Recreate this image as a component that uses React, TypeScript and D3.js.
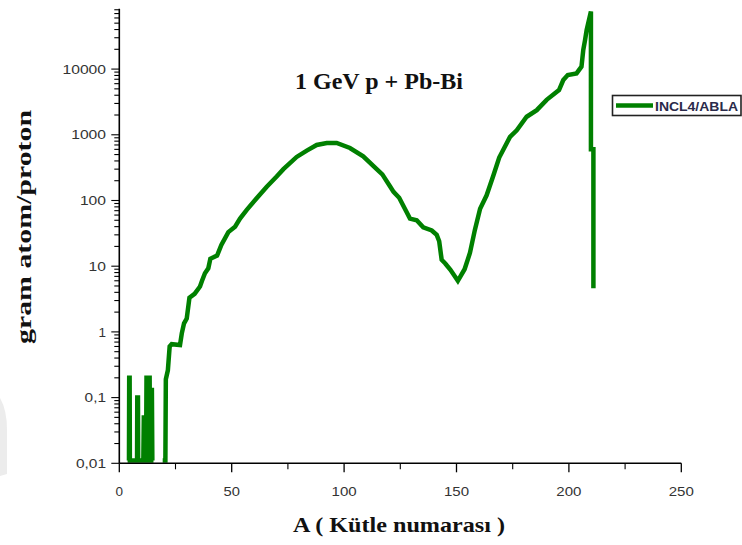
import React from "react";
import * as d3 from "d3";

// ---- data ----
const massNumbers: number[] = [
  4.3, 4.4, 4.6, 4.7, 7.9, 8.0, 8.3, 8.4,
  10.7, 10.9, 11.3, 11.5, 11.9, 12.1, 12.5, 12.7, 13.0, 13.2, 13.5, 13.7, 13.9, 14.1, 14.5, 14.7, 15.2,
  17.0,
  19.3, 20.5, 20.7, 21.6, 22.4, 23.3, 27.0, 27.8, 28.8, 30.0, 31.2, 33.5, 35.9, 36.8, 38.1, 39.6,
  40.5, 43.5, 45.4, 48.5, 51.5, 53.7, 56.7, 61.1, 65.6, 70.0, 73.0, 78.9, 83.4, 87.8, 92.3, 96.7,
  102.6, 108.5, 114.5, 117.0, 120.4, 122.0, 124.5, 127.5, 129.3, 132.3, 135.2, 139.0, 141.2, 142.3,
  143.4, 145.0, 147.3, 150.6, 153.6, 156.0, 158.2, 160.5, 163.4, 166.4, 169.0, 173.8, 176.8, 181.2,
  185.7, 190.1, 193.8, 195.6, 197.5, 199.5, 203.4, 205.6, 206.4, 207.2, 207.9, 209.8, 209.8, 210.9, 210.9,
];
const yields: (number | null)[] = [
  0.011, 0.2, 0.2, 0.011, 0.011, 0.1, 0.1, 0.011,
  0.011, 0.05, 0.05, 0.011, 0.011, 0.2, 0.2, 0.011, 0.011, 0.2, 0.2, 0.011, 0.011, 0.13, 0.13, 0.011, 0.011,
  null,
  0.011, 0.011, 0.19, 0.26, 0.6, 0.65, 0.63, 0.95, 1.35, 1.6, 3.3, 3.8, 4.9, 6.0, 7.8, 9.3,
  13, 14.5, 21, 33, 40, 53, 72, 108, 162, 232, 300, 460, 575, 700, 750, 750,
  630, 470, 300, 250, 165, 135, 110, 70, 53, 50, 39, 35, 30, 24,
  12.5, 11, 8.8, 6.0, 9.0, 16, 36, 75, 120, 240, 450, 930, 1170, 1880,
  2370, 3400, 4300, 4800, 6800, 8100, 8600, 10900, 19600, 27900, 39500, 75000, 600, 600, 4.6,
];

const xTickValues = [0, 50, 100, 150, 200, 250];
const xTickLabels = ["0", "50", "100", "150", "200", "250"];
const xMinorTicks = [25, 75, 125, 175, 225];
const yTickValues = [0.01, 0.1, 1, 10, 100, 1000, 10000];
const yTickLabels = ["0,01", "0,1", "1", "10", "100", "1000", "10000"];
const seriesName = "INCL4/ABLA";
const chartTitle = "1 GeV p + Pb-Bi";
const xTitle = "A ( Kütle numarası )";
const yTitle = "gram atom/proton";

const GREEN = "#008000";
const LABEL_COLOR = "#333333";
const SERIF = "'Times New Roman', 'Liberation Serif', Tinos, Times, serif";
const SANS = "Arial, 'Liberation Sans', Helvetica, sans-serif";

function labelLength(s: string): number {
  let w = 0;
  for (const ch of s) w += ch === "," ? 4 : 8.7;
  return w;
}

export default function App() {
  const W = 742;
  const H = 545;
  const x = d3.scaleLinear().domain([0, 250]).range([119.3, 681.3]);
  const y = d3.scaleLog().domain([0.01, 83000]).range([463.3, 8.7]);

  const points: [number, number | null][] = massNumbers.map((a, i) => [a, yields[i]]);
  const line = d3
    .line<[number, number | null]>()
    .defined((d) => d[1] != null)
    .x((d) => x(d[0]))
    .y((d) => y(Math.max(0.01, d[1] as number)));

  const yTicksAll = y.ticks().filter((t) => t >= 0.01 && t <= 83000);
  const isMajor = (t: number) => Math.abs(Math.log10(t) - Math.round(Math.log10(t))) < 1e-9;

  const x0 = x(0);
  const yBottom = y(0.01);
  const yTop = y(83000);

  return (
    <svg
      width={W}
      height={H}
      style={{ position: "absolute", left: 0, top: 0, display: "block", background: "#fff" }}
    >
      <rect x={0} y={0} width={W} height={H} fill="#fff" />
      {/* faint scan artifact at the left edge */}
      <path d="M0,398 Q7,410 7,430 L7,474 L0,476 Z" fill="#ececec" />

      {/* curve */}
      <path
        d={line(points) || ""}
        fill="none"
        stroke={GREEN}
        strokeWidth={4.5}
        strokeLinejoin="miter"
        strokeMiterlimit={2}
      />

      {/* y axis */}
      <line x1={x0} x2={x0} y1={yTop} y2={yBottom} stroke="#000" strokeWidth={1.6} />
      {yTicksAll.map((t, i) => (
        <line
          key={"yt" + i}
          x1={x0 - (isMajor(t) ? 8 : 5)}
          x2={x0}
          y1={y(t)}
          y2={y(t)}
          stroke="#000"
          strokeWidth={1.1}
        />
      ))}
      {yTickValues.map((t, i) => (
        <text
          key={"yl" + i}
          x={106}
          y={y(t) + 4.7}
          textAnchor="end"
          fontFamily={SANS}
          fontSize={13.5}
          fill={LABEL_COLOR}
          {...(yTickLabels[i].length > 1
            ? { textLength: labelLength(yTickLabels[i]), lengthAdjust: "spacingAndGlyphs" }
            : {})}
        >
          {yTickLabels[i]}
        </text>
      ))}

      {/* x axis */}
      <line x1={x0} x2={x(250)} y1={yBottom} y2={yBottom} stroke="#000" strokeWidth={1.6} />
      {xTickValues.map((t, i) => (
        <line key={"xt" + i} x1={x(t)} x2={x(t)} y1={yBottom} y2={yBottom + 9} stroke="#000" strokeWidth={1.3} />
      ))}
      {xMinorTicks.map((t, i) => (
        <line key={"xm" + i} x1={x(t)} x2={x(t)} y1={yBottom} y2={yBottom + 6} stroke="#000" strokeWidth={1.1} />
      ))}
      {xTickValues.map((t, i) => (
        <text
          key={"xl" + i}
          x={x(t)}
          y={496}
          textAnchor="middle"
          fontFamily={SANS}
          fontSize={13.5}
          fill={LABEL_COLOR}
          {...(xTickLabels[i].length > 1
            ? { textLength: labelLength(xTickLabels[i]) - 1, lengthAdjust: "spacingAndGlyphs" }
            : {})}
        >
          {xTickLabels[i]}
        </text>
      ))}

      {/* titles */}
      <text
        x={379}
        y={89}
        textAnchor="middle"
        fontFamily={SERIF}
        fontWeight="bold"
        fontSize={23}
        fill="#111"
        textLength={168}
        lengthAdjust="spacingAndGlyphs"
      >
        {chartTitle}
      </text>
      <text
        x={399}
        y={532}
        textAnchor="middle"
        fontFamily={SERIF}
        fontWeight="bold"
        fontSize={21}
        fill="#111"
        textLength={212}
        lengthAdjust="spacingAndGlyphs"
      >
        {xTitle}
      </text>
      <text
        transform="translate(31,227) rotate(-90)"
        textAnchor="middle"
        fontFamily={SERIF}
        fontWeight="bold"
        fontSize={21}
        fill="#111"
        textLength={234}
        lengthAdjust="spacingAndGlyphs"
      >
        {yTitle}
      </text>

      {/* legend */}
      <rect x={612.5} y={95.5} width={128.5} height={20} fill="#fff" stroke="#222" strokeWidth={1.6} />
      <line x1={616} x2={653} y1={105.5} y2={105.5} stroke={GREEN} strokeWidth={4.5} />
      <text
        x={655}
        y={110.5}
        fontFamily={SANS}
        fontWeight="bold"
        fontSize={13}
        fill="#2a2a4a"
        textLength={83}
        lengthAdjust="spacingAndGlyphs"
      >
        {seriesName}
      </text>
    </svg>
  );
}
